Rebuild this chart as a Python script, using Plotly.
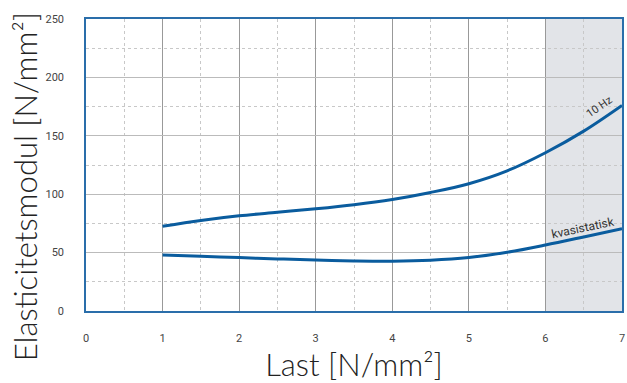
import plotly.graph_objects as go

x_vals = [1, 1.5, 2, 2.5, 3, 3.5, 4, 4.5, 5, 5.5, 6, 6.5, 7]
hz10 = [72.5, 77.5, 81.5, 84.5, 87.5, 91, 95.5, 101.5, 109, 120, 135.5, 154, 176]
kvasi = [48, 46.9, 45.7, 44.6, 43.6, 42.9, 42.7, 43.5, 45.8, 50.3, 56.5, 63.4, 70.5]
x_ticks = [0, 1, 2, 3, 4, 5, 6, 7]
y_ticks = [0, 50, 100, 150, 200, 250]
shade_range = [6, 7]

line_color = "#0a5c9e"
fig = go.Figure()
fig.add_trace(go.Scatter(x=x_vals, y=hz10, mode="lines", line=dict(color=line_color, width=3, shape="spline", smoothing=1), showlegend=False))
fig.add_trace(go.Scatter(x=x_vals, y=kvasi, mode="lines", line=dict(color=line_color, width=3, shape="spline", smoothing=1), showlegend=False))

fig.add_shape(type="rect", xref="x", yref="y", x0=shade_range[0], x1=shade_range[1], y0=0, y1=250,
              fillcolor="#e2e4e8", line=dict(width=0), layer="below")

fig.add_annotation(x=6.71, y=175, text="10 Hz", showarrow=False, textangle=-35,
                   font=dict(family="Roboto", size=11, color="#333"))
fig.add_annotation(x=6.49, y=71, text="kvasistatisk", showarrow=False, textangle=-12,
                   font=dict(family="Roboto", size=12, color="#333"))

# y-axis title placed as rotated annotation (it sits lower than the plot centre in the reference)
fig.add_annotation(xref="paper", yref="paper", x=(25 - 86) / 538, y=(311 - 187) / 292,
                   text="Elasticitetsmodul [N/mm²]", showarrow=False, textangle=-90,
                   xanchor="center", yanchor="middle",
                   font=dict(family="Lato", size=31, color="#222", weight=300))

fig.update_layout(
    width=627, height=383,
    margin=dict(l=86, r=3, t=19, b=72),
    paper_bgcolor="white", plot_bgcolor="white",
    font=dict(family="Roboto", color="#444"),
)
fig.update_xaxes(
    range=[0, 7], tickvals=x_ticks, showline=True, mirror=True, linecolor="#2a6eaa", linewidth=1.5,
    showgrid=True, gridcolor="#999", gridwidth=1, zeroline=False,
    minor=dict(dtick=0.5, showgrid=True, griddash="dot", gridcolor="#c8c8c8", gridwidth=1),
    ticks="", ticklabelstandoff=16, tickfont=dict(size=11, color="#444"),
    title=dict(text="Last [N/mm²]", font=dict(family="Lato", size=31, color="#222", weight=300), standoff=8),
)
fig.update_yaxes(
    range=[0, 250], tickvals=y_ticks, showline=True, mirror=True, linecolor="#2a6eaa", linewidth=1.5,
    showgrid=True, gridcolor="#bbb", gridwidth=1, zeroline=False,
    minor=dict(dtick=25, showgrid=True, griddash="dot", gridcolor="#c8c8c8", gridwidth=1),
    ticks="", ticklabelstandoff=18, tickfont=dict(size=11, color="#444"),
)
fig.write_html("out.html")
